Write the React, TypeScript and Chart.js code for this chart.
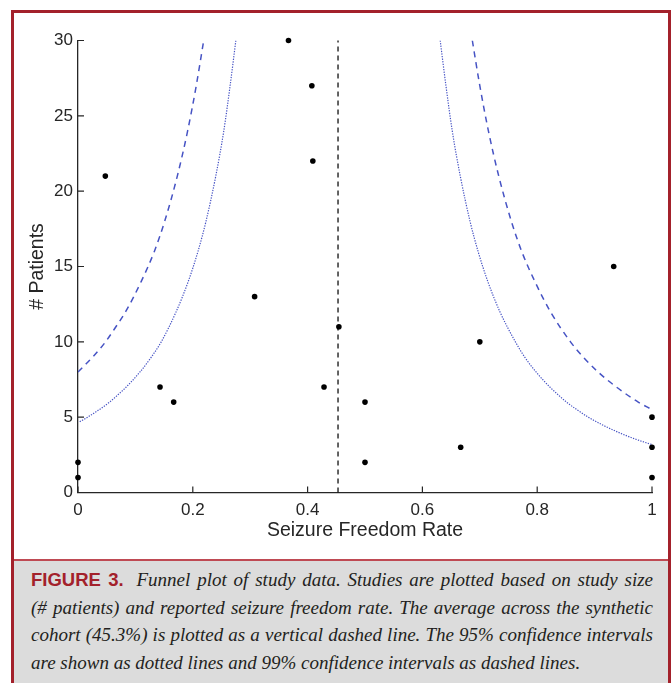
import React, { useEffect, useRef } from "react";
import { Chart, registerables } from "chart.js";

Chart.register(...registerables);

// ---- Data ----
const studyRates = [0, 0, 0.0476, 0.1429, 0.1667, 0.3077, 0.3667, 0.4074, 0.4091, 0.4286, 0.4545, 0.5, 0.5, 0.6667, 0.7, 0.9333, 1, 1, 1];
const studyPatients = [1, 2, 21, 7, 6, 13, 30, 27, 22, 7, 11, 6, 2, 3, 10, 15, 5, 3, 1];

const meanRate = 0.453;
const meanLineY = [0, 30];

// 95% confidence limits (dotted)
const ci95LowerX = [0.003, 0.01, 0.017, 0.027, 0.037, 0.055, 0.07, 0.084, 0.108, 0.128, 0.145, 0.171, 0.192, 0.209, 0.223, 0.24, 0.254, 0.265, 0.275];
const ci95LowerY = [4.7, 4.85, 5, 5.25, 5.5, 6, 6.5, 7, 8, 9, 10, 12, 14, 16, 18, 21, 24, 27, 30];
const ci95UpperX = [0.631, 0.641, 0.652, 0.666, 0.683, 0.697, 0.714, 0.735, 0.762, 0.778, 0.798, 0.822, 0.836, 0.851, 0.869, 0.889, 0.913, 0.941, 0.967, 0.99, 1.0];
const ci95UpperY = [30, 27, 24, 21, 18, 16, 14, 12, 10, 9, 8, 7, 6.5, 6, 5.5, 5, 4.5, 4, 3.6, 3.3, 3.18];

// 99% confidence limits (dashed)
const ci99LowerX = [0.0, 0.013, 0.026, 0.048, 0.066, 0.083, 0.11, 0.133, 0.151, 0.173, 0.191, 0.206, 0.219];
const ci99LowerY = [8, 8.5, 9, 10, 11, 12, 14, 16, 18, 21, 24, 27, 30];
const ci99UpperX = [0.687, 0.7, 0.715, 0.733, 0.755, 0.773, 0.796, 0.823, 0.858, 0.88, 0.906, 0.938, 0.976, 1.0];
const ci99UpperY = [30, 27, 24, 21, 18, 16, 14, 12, 10, 9, 8, 7, 6, 5.5];

const xTickValues = [0, 0.2, 0.4, 0.6, 0.8, 1];
const xTickLabels = ["0", "0.2", "0.4", "0.6", "0.8", "1"];
const yTickValues = [0, 5, 10, 15, 20, 25, 30];
const yTickLabels = ["0", "5", "10", "15", "20", "25", "30"];

const xTitle = "Seizure Freedom Rate";
const yTitle = "# Patients";

const captionLabel = "FIGURE 3.";
const captionLines = [
  "Funnel plot of study data. Studies are plotted based on study size",
  "(# patients) and reported seizure freedom rate. The average across the synthetic",
  "cohort (45.3%) is plotted as a vertical dashed line. The 95% confidence intervals",
  "are shown as dotted lines and 99% confidence intervals as dashed lines.",
];

const zip = (xs: number[], ys: number[]) => xs.map((x, i) => ({ x, y: ys[i] }));

const AXIS_COLOR = "#262626";
const CURVE_COLOR = "#4653c4";
const FONT = "'Liberation Sans', Arial, Helvetica, sans-serif";

const inwardTicks = {
  id: "inwardTicks",
  afterDatasetsDraw(chart: any) {
    const { ctx } = chart;
    const xs = chart.scales.x;
    const ys = chart.scales.y;
    ctx.save();
    ctx.strokeStyle = AXIS_COLOR;
    ctx.lineWidth = 1.2;
    ctx.beginPath();
    xs.ticks.forEach((t: any) => {
      const px = xs.getPixelForValue(t.value);
      ctx.moveTo(px, ys.bottom);
      ctx.lineTo(px, ys.bottom - 6);
    });
    ys.ticks.forEach((t: any) => {
      const py = ys.getPixelForValue(t.value);
      ctx.moveTo(xs.left, py);
      ctx.lineTo(xs.left + 6, py);
    });
    ctx.stroke();
    ctx.restore();
  },
};

function FunnelChart() {
  const ref = useRef<HTMLCanvasElement | null>(null);
  useEffect(() => {
    if (!ref.current) return;
    const chart = new Chart(ref.current, {
      type: "scatter",
      data: {
        datasets: [
          {
            label: "Studies",
            data: zip(studyRates, studyPatients),
            backgroundColor: "#000",
            borderColor: "#000",
            pointRadius: 2.8,
            pointBorderWidth: 0,
            showLine: false,
            clip: false,
          },
          {
            label: "Mean",
            data: meanLineY.map((y) => ({ x: meanRate, y })),
            showLine: true,
            borderColor: "#111",
            borderWidth: 1.3,
            borderDash: [5, 4],
            pointRadius: 0,
            clip: false,
          },
          {
            label: "95% lower",
            data: zip(ci95LowerX, ci95LowerY),
            showLine: true,
            borderColor: CURVE_COLOR,
            borderWidth: 1.2,
            borderDash: [1.3, 1.3],
            pointRadius: 0,
            cubicInterpolationMode: "monotone",
          },
          {
            label: "95% upper",
            data: zip(ci95UpperX, ci95UpperY),
            showLine: true,
            borderColor: CURVE_COLOR,
            borderWidth: 1.2,
            borderDash: [1.3, 1.3],
            pointRadius: 0,
            cubicInterpolationMode: "monotone",
          },
          {
            label: "99% lower",
            data: zip(ci99LowerX, ci99LowerY),
            showLine: true,
            borderColor: CURVE_COLOR,
            borderWidth: 1.5,
            borderDash: [6, 5],
            pointRadius: 0,
            cubicInterpolationMode: "monotone",
          },
          {
            label: "99% upper",
            data: zip(ci99UpperX, ci99UpperY),
            showLine: true,
            borderColor: CURVE_COLOR,
            borderWidth: 1.5,
            borderDash: [6, 5],
            pointRadius: 0,
            cubicInterpolationMode: "monotone",
          },
        ],
      },
      options: {
        animation: false,
        responsive: false,
        events: [],
        layout: { padding: { top: 27.5, right: 16, left: 0, bottom: 0 } },
        plugins: {
          legend: { display: false },
          tooltip: { enabled: false },
        },
        scales: {
          x: {
            type: "linear",
            min: 0,
            max: 1,
            afterBuildTicks: (s: any) => {
              s.ticks = xTickValues.map((v) => ({ value: v }));
            },
            afterFit: (s: any) => {
              s.height = 67.5;
            },
            grid: { display: true, drawOnChartArea: false, drawTicks: false },
            border: { display: true, color: AXIS_COLOR, width: 1.3 },
            ticks: {
              padding: 8,
              color: AXIS_COLOR,
              font: { family: FONT, size: 17 },
              maxRotation: 0,
              autoSkip: false,
              callback: (_v: any, i: number) => xTickLabels[i],
            },
            title: {
              display: true,
              text: xTitle,
              color: AXIS_COLOR,
              font: { family: FONT, size: 19.5 },
              padding: { top: 0, bottom: 17.8 },
            },
          },
          y: {
            type: "linear",
            min: 0,
            max: 30,
            afterBuildTicks: (s: any) => {
              s.ticks = yTickValues.map((v) => ({ value: v }));
            },
            afterFit: (s: any) => {
              s.width = 64;
            },
            grid: { display: true, drawOnChartArea: false, drawTicks: false },
            border: { display: true, color: AXIS_COLOR, width: 1.3 },
            ticks: {
              padding: 5,
              color: AXIS_COLOR,
              font: { family: FONT, size: 17 },
              autoSkip: false,
              callback: (_v: any, i: number) => yTickLabels[i],
            },
            title: {
              display: true,
              text: yTitle,
              color: AXIS_COLOR,
              font: { family: FONT, size: 19.5 },
              padding: { top: 12, bottom: 0 },
            },
          },
        },
      },
      plugins: [inwardTicks],
    } as any);
    return () => chart.destroy();
  }, []);
  return <canvas ref={ref} width={654} height={547} style={{ display: "block", width: 654, height: 547 }} />;
}

export default function App() {
  const lineStyle: React.CSSProperties = {
    textAlign: "justify",
    textAlignLast: "justify" as any,
    whiteSpace: "nowrap",
    height: 27.5,
    lineHeight: "27.5px",
  };
  return (
    <div
      style={{
        position: "absolute",
        left: 0,
        top: 0,
        width: 671,
        height: 683,
        overflow: "hidden",
        background: "#fff",
      }}
    >
      <div
        style={{
          position: "absolute",
          left: 11,
          top: 10,
          width: 660,
          height: 700,
          border: "3px solid #a3212b",
          boxSizing: "border-box",
        }}
      />
      <div style={{ position: "absolute", left: 14, top: 13 }}>
        <FunnelChart />
      </div>
      <div
        style={{
          position: "absolute",
          left: 14,
          top: 559,
          width: 654,
          height: 130,
          borderTop: "2px solid #bf4a53",
          background: "#dcdcdc",
          boxSizing: "border-box",
          padding: "5px 15px 0 17px",
          color: "#231f20",
          fontFamily: "'Liberation Serif', 'Times New Roman', serif",
          fontStyle: "italic",
          fontSize: 19,
        }}
      >
        {captionLines.map((line, i) => (
          <div
            key={i}
            style={
              i < captionLines.length - 1
                ? lineStyle
                : { ...lineStyle, textAlign: "left", textAlignLast: "left" as any }
            }
          >
            {i === 0 ? (
              <span
                style={{
                  fontFamily: FONT,
                  fontStyle: "normal",
                  fontWeight: 700,
                  fontSize: 18.5,
                  color: "#a3212b",
                  marginRight: 6,
                }}
              >
                {captionLabel}
              </span>
            ) : null}
            {i === 0 ? " " : null}
            {line}
          </div>
        ))}
      </div>
    </div>
  );
}
